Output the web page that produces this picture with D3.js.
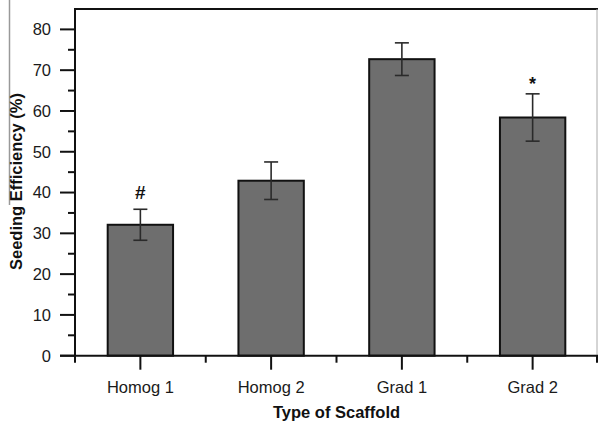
<!DOCTYPE html>
<html>
<head>
<meta charset="utf-8">
<script src="https://cdn.jsdelivr.net/npm/d3@7"></script>
<style>
  body { margin: 0; background: #fff; }
  svg { display: block; font-family: "Liberation Sans", Arial, sans-serif; }
</style>
</head>
<body>
<svg id="chart" width="598" height="424"></svg>
<script>
// values
const scaffolds = ['Homog 1', 'Homog 2', 'Grad 1', 'Grad 2'];
const efficiency = [32.1, 42.9, 72.7, 58.4];
const errors = [3.8, 4.6, 4.0, 5.8];
const marks = ['#', '', '', '*'];
const yTicks = [0, 10, 20, 30, 40, 50, 60, 70, 80];

const svg = d3.select('#chart');

const plotLeft = 75, plotRight = 598, plotTop = 9, plotBottom = 355.7;

const x = d3.scaleBand()
  .domain(scaffolds)
  .range([plotLeft, plotRight])
  .paddingInner(0.5)
  .paddingOuter(0.25);

const y = d3.scaleLinear()
  .domain([0, 85])
  .range([plotBottom, plotTop]);

// faint line left over at the image edge
svg.append('line')
  .attr('x1', 9.5).attr('x2', 9.5)
  .attr('y1', 0).attr('y2', 205)
  .attr('stroke', '#999').attr('stroke-width', 1.5);

// frame top + right
svg.append('line')
  .attr('x1', plotLeft).attr('x2', plotRight)
  .attr('y1', plotTop).attr('y2', plotTop)
  .attr('stroke', '#111').attr('stroke-width', 2);
svg.append('line')
  .attr('x1', 597).attr('x2', 597)
  .attr('y1', plotTop).attr('y2', plotBottom)
  .attr('stroke', '#aaa').attr('stroke-width', 1);

// bars
const bars = svg.append('g');
scaffolds.forEach((s, i) => {
  bars.append('rect')
    .attr('x', x(s))
    .attr('y', y(efficiency[i]))
    .attr('width', x.bandwidth())
    .attr('height', y(0) - y(efficiency[i]))
    .attr('fill', '#6e6e6e')
    .attr('stroke', '#111')
    .attr('stroke-width', 2);
});

// error bars
const err = svg.append('g').attr('stroke', '#2a2a2a').attr('stroke-width', 1.6);
scaffolds.forEach((s, i) => {
  const cx = x(s) + x.bandwidth() / 2;
  const hi = y(efficiency[i] + errors[i]);
  const lo = y(efficiency[i] - errors[i]);
  err.append('line').attr('x1', cx).attr('x2', cx).attr('y1', hi).attr('y2', lo);
  err.append('line').attr('x1', cx - 7).attr('x2', cx + 7).attr('y1', hi).attr('y2', hi);
  err.append('line').attr('x1', cx - 7).attr('x2', cx + 7).attr('y1', lo).attr('y2', lo);

  if (marks[i]) {
    const isHash = marks[i] === '#';
    svg.append('text')
      .attr('x', cx)
      .attr('y', hi - (isHash ? 10 : 4))
      .attr('text-anchor', 'middle')
      .attr('font-size', isHash ? 19 : 18)
      .attr('font-weight', 'bold')
      .attr('fill', '#111')
      .text(marks[i]);
  }
});

// y axis
const yAxis = svg.append('g');
yAxis.append('line')
  .attr('x1', plotLeft).attr('x2', plotLeft)
  .attr('y1', plotTop - 1).attr('y2', plotBottom)
  .attr('stroke', '#111').attr('stroke-width', 2);
d3.range(0, 85, 5).forEach(v => {
  const major = v % 10 === 0;
  yAxis.append('line')
    .attr('x1', plotLeft - (major ? 15 : 7)).attr('x2', plotLeft)
    .attr('y1', y(v)).attr('y2', y(v))
    .attr('stroke', '#111').attr('stroke-width', 2);
});
yTicks.forEach(v => {
  yAxis.append('text')
    .attr('x', 51)
    .attr('y', y(v))
    .attr('dy', '0.36em')
    .attr('text-anchor', 'end')
    .attr('font-size', 16.5)
    .attr('fill', '#1a1a1a')
    .text(v);
});

// x axis
const xAxis = svg.append('g');
xAxis.append('line')
  .attr('x1', plotLeft - 15).attr('x2', plotRight)
  .attr('y1', plotBottom).attr('y2', plotBottom)
  .attr('stroke', '#111').attr('stroke-width', 2);
scaffolds.forEach(s => {
  const cx = x(s) + x.bandwidth() / 2;
  xAxis.append('line')
    .attr('x1', cx).attr('x2', cx)
    .attr('y1', plotBottom).attr('y2', plotBottom + 14)
    .attr('stroke', '#111').attr('stroke-width', 2);
  xAxis.append('text')
    .attr('x', cx)
    .attr('y', 392.5)
    .attr('text-anchor', 'middle')
    .attr('font-size', 16.5)
    .attr('fill', '#1a1a1a')
    .text(s);
});
// short ticks on the band edges
scaffolds.map(s => x(s) - x.step() * 0.25).concat([plotRight - 1]).forEach(bx => {
  xAxis.append('line')
    .attr('x1', bx).attr('x2', bx)
    .attr('y1', plotBottom).attr('y2', plotBottom + 7)
    .attr('stroke', '#111').attr('stroke-width', 2);
});

// axis titles
svg.append('text')
  .attr('x', (plotLeft + plotRight) / 2)
  .attr('y', 418)
  .attr('text-anchor', 'middle')
  .attr('font-size', 16.5)
  .attr('font-weight', 'bold')
  .attr('fill', '#111')
  .text('Type of Scaffold');

svg.append('text')
  .attr('transform', 'translate(22,181.5) rotate(-90)')
  .attr('text-anchor', 'middle')
  .attr('font-size', 16.5)
  .attr('font-weight', 'bold')
  .attr('fill', '#111')
  .text('Seeding Efficiency (%)');
</script>
</body>
</html>
